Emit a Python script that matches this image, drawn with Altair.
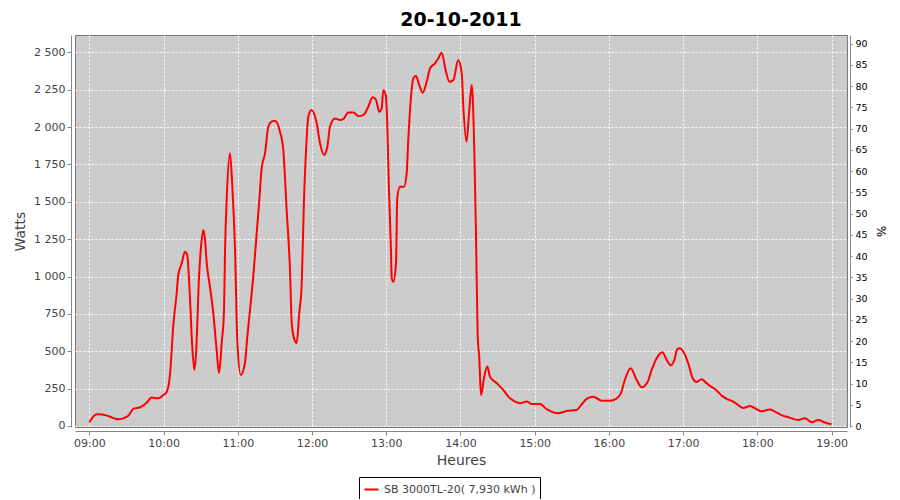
import altair as alt
import pandas as pd

TITLE = "20-10-2011"
SERIES = "SB 3000TL-20( 7,930 kWh )"

# minutes after 09:00
minutes = [0, 6, 8.6, 16.7, 20.8, 23.4, 28.9, 31.5, 35.6, 41,
           46.4, 50.4, 55.8, 59.8, 62.6, 65.2, 67.9, 70.6, 71.9, 74.7,
           77.3, 79, 81.4, 83, 84.9, 86.2, 88.7, 90.3, 92.1, 93.5,
           94.9, 97.5, 100.2, 103, 104.8, 107, 108.9, 109.7, 111, 113.7,
           115.6, 117.8, 119.6, 122.4, 125.8, 127.7, 129.9, 132.5, 135.3, 137.4,
           139.3, 142, 144.7, 147.4, 150.1, 154.1, 156.8, 159.5, 162.2, 163.6,
           165.4, 167.6, 169.7, 171.7, 173.5, 175.1, 177, 179.7, 183.8, 186.5,
           189.7, 192.4, 194.5, 198.6, 202.6, 205.3, 209.3, 213.4, 217.4, 221.4,
           225.5, 229, 231.7, 234.4, 236.3, 237.6, 239.6, 240.4, 242.2, 243.8,
           244.4, 245.7, 247.9, 248.9, 251.1, 254.3, 256.5, 257.8, 259.8, 261.9,
           264, 266.7, 269.5, 272.7, 275.4, 279.4, 282.1, 284.7, 288.3, 291,
           294.2, 298.2, 301, 302.3, 304.9, 307.1, 309.1, 311.2, 312.5, 313.9,
           315.2, 316.6, 319, 321.7, 323.8, 329.3, 334.6, 340, 344.1, 348.1,
           353.5, 357.5, 364.3, 369.7, 379.1, 385.8, 393.9, 398, 402, 407.3,
           414.1, 420.8, 425.7, 429.7, 432.4, 437.5, 442.4, 446.5, 451.3, 454.5,
           458.6, 463.1, 466.7, 469.9, 472.8, 475.3, 477.4, 480.1, 484.1, 487.7,
           490.9, 494.9, 498.4, 501.6, 506.5, 511.1, 515.2, 520.3, 524.5, 528.6,
           534, 538.8, 543.3, 550.1, 554.2, 559, 565.5, 573, 578.4, 583.9,
           589.2, 593.8, 599.9]

watts = [25, 78, 78, 62, 49, 45, 56, 69, 114, 125,
         156, 190, 185, 207, 229, 341, 675, 888, 1010, 1088,
         1166, 1150, 850, 560, 375, 470, 1000, 1200, 1311, 1250,
         1090, 932, 755, 500, 354, 555, 776, 1177, 1512, 1824,
         1600, 1177, 575, 341, 421, 597, 776, 999, 1291, 1512,
         1724, 1824, 2002, 2036, 2042, 1969, 1846, 1445, 1043, 689,
         589, 555, 755, 955, 1512, 1835, 2069, 2114, 2025, 1891,
         1813, 1868, 2002, 2058, 2047, 2053, 2098, 2098, 2074, 2080,
         2136, 2199, 2181, 2102, 2125, 2247, 2214, 2114, 1579, 1177,
         990, 965, 1090, 1525, 1601, 1601, 1690, 1913, 2181, 2326,
         2341, 2281, 2229, 2303, 2393, 2426, 2460, 2497, 2370, 2303,
         2314, 2448, 2359, 2136, 1902, 2114, 2281, 1835, 1300, 609,
         453, 207, 319, 397, 330, 286, 241, 185, 163, 152,
         163, 147, 147, 112, 85, 100, 107, 145, 181, 196,
         169, 169, 181, 219, 296, 386, 308, 259, 296, 375,
         453, 493, 441, 406, 441, 515, 520, 497, 419, 319,
         294, 313, 290, 268, 241, 203, 182, 163, 140, 120,
         134, 115, 98, 110, 96, 74, 57, 40, 51, 25,
         40, 25, 12]

hour_ticks = list(range(9, 20))
watt_ticks = list(range(0, 2501, 250))
pct_ticks = list(range(0, 91, 5))
pct_range = [0, 90]

base = pd.Timestamp("2011-10-20 09:00:00")
df = pd.DataFrame({
    "time": [(base + pd.Timedelta(minutes=m)).strftime("%Y-%m-%dT%H:%M:%S") for m in minutes],
    "watts": watts,
    "serie": [SERIES] * len(watts),
})
pct_df = pd.DataFrame({"pct": pct_range})


def dt(h, mi=0, s=0):
    return alt.DateTime(year=2011, month=10, date=20, hours=h, minutes=mi, seconds=s)


line = alt.Chart(df).mark_line(color="red", strokeWidth=2, interpolate="monotone").encode(
    x=alt.X("time:T",
            scale=alt.Scale(domain=[dt(8, 48, 26), dt(19, 12, 24)], nice=False),
            axis=alt.Axis(title="Heures", format="%H:%M", values=[dt(h) for h in hour_ticks],
                          offset=4, tickSize=4, labelPadding=2, titlePadding=5)),
    y=alt.Y("watts:Q",
            scale=alt.Scale(domain=[-7, 2616], nice=False, zero=False),
            axis=alt.Axis(title="Watts", values=watt_ticks,
                          labelExpr="replace(format(datum.value, ','), ',', ' ')",
                          offset=4, tickSize=4, labelPadding=2, titlePadding=6)),
    color=alt.Color("serie:N", scale=alt.Scale(domain=[SERIES], range=["red"]),
                    legend=alt.Legend(title=None, orient="none", legendX=284, legendY=442,
                                      strokeColor="black", fillColor="white", padding=4,
                                      symbolType="stroke", symbolStrokeWidth=2, symbolSize=200,
                                      labelFontSize=11, labelColor="#444", labelFont="DejaVu Sans")),
)

pct = alt.Chart(pct_df).mark_point(opacity=0).encode(
    y=alt.Y("pct:Q",
            scale=alt.Scale(domain=[-0.2, 92], nice=False, zero=False),
            axis=alt.Axis(orient="right", title="%", values=pct_ticks, grid=False,
                          offset=3, tickSize=2, labelPadding=3, labelColor="black",
                          labelFontSize=9.5, titleColor="black", titleFontSize=12,
                          titlePadding=6)),
)

chart = alt.layer(line, pct).resolve_scale(y="independent").properties(
    width=772, height=392,
    title=alt.TitleParams(TITLE, font="DejaVu Sans", fontSize=19, fontWeight="bold",
                          color="black", anchor="middle", offset=5),
    padding={"left": 67, "top": 27, "right": 45, "bottom": 72},
    autosize="none",
).configure_view(
    fill="#cccccc", stroke="#777777", strokeWidth=1
).configure_axis(
    gridColor="white", gridDash=[2, 2], gridOpacity=1, gridWidth=1,
    domainColor="#888888", tickColor="#888888",
    labelFont="DejaVu Sans", labelColor="#444444", labelFontSize=11,
    titleFont="DejaVu Sans", titleFontSize=14, titleFontWeight="normal", titleColor="#444444",
)

chart.save("out.html", embed_options={"renderer": "svg", "actions": False})
